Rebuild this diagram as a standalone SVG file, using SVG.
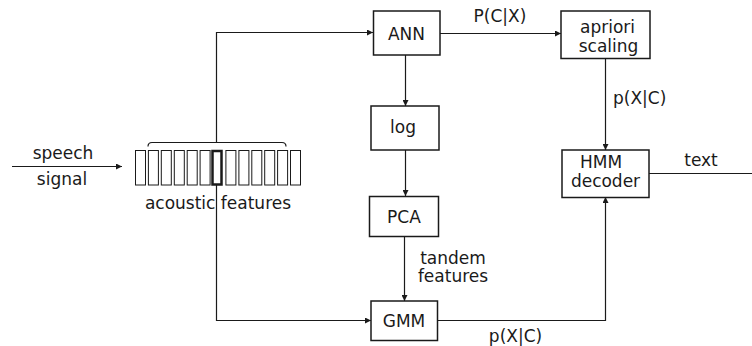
<svg xmlns="http://www.w3.org/2000/svg" width="752" height="346" viewBox="0 0 752 346">
<style>
  text { font-family: "DejaVu Sans", Verdana, sans-serif; font-size: 17px; fill: #1a1a1a; }
  .box { fill: #ffffff; stroke: #1a1a1a; stroke-width: 1.5; }
  .conn { fill: none; stroke: #1a1a1a; stroke-width: 1.2; }
  .feat { fill: #ffffff; stroke: #1a1a1a; stroke-width: 1; }
  .mid { stroke-width: 2.5; }
  .c { text-anchor: middle; }
</style>
<defs>
  <marker id="arr" viewBox="0 0 8 8" refX="8" refY="4" markerWidth="6" markerHeight="6" orient="auto" markerUnits="userSpaceOnUse">
    <path d="M0,0 L8,4 L0,8 z" fill="#1a1a1a"/>
  </marker>
</defs>

<g id="connectors">
  <path class="conn" d="M12,166.5 H122" marker-end="url(#arr)"/>
  <path class="conn" d="M216.5,142 V32.5 H373" marker-end="url(#arr)"/>
  <path class="conn" d="M216.5,185 V320.5 H371" marker-end="url(#arr)"/>
  <path class="conn" d="M405.5,55 V106" marker-end="url(#arr)"/>
  <path class="conn" d="M405.5,150 V196" marker-end="url(#arr)"/>
  <path class="conn" d="M404.5,237 V301" marker-end="url(#arr)"/>
  <path class="conn" d="M440,33.5 H561" marker-end="url(#arr)"/>
  <path class="conn" d="M605.5,58 V150" marker-end="url(#arr)"/>
  <path class="conn" d="M437,320.5 H605.5 V197" marker-end="url(#arr)"/>
  <path class="conn" d="M649,173.5 H752"/>
</g>

<g id="input-label">
  <text class="c" x="63" y="159">speech</text>
  <text class="c" x="62" y="185">signal</text>
</g>

<g id="acoustic-features">
  <path class="conn" d="M148,146.5 Q148,142.5 152,142.5 H282 Q286,142.5 286,146.5"/>
  <rect class="feat" x="135.5" y="150.5" width="10" height="34.5"/>
  <rect class="feat" x="148.4" y="150.5" width="10" height="34.5"/>
  <rect class="feat" x="161.3" y="150.5" width="10" height="34.5"/>
  <rect class="feat" x="174.3" y="150.5" width="10" height="34.5"/>
  <rect class="feat" x="187.2" y="150.5" width="10" height="34.5"/>
  <rect class="feat" x="200.1" y="150.5" width="10" height="34.5"/>
  <rect class="feat mid" x="212.5" y="151" width="9" height="33.5"/>
  <rect class="feat" x="225.9" y="150.5" width="10" height="34.5"/>
  <rect class="feat" x="238.9" y="150.5" width="10" height="34.5"/>
  <rect class="feat" x="251.8" y="150.5" width="10" height="34.5"/>
  <rect class="feat" x="264.7" y="150.5" width="10" height="34.5"/>
  <rect class="feat" x="277.6" y="150.5" width="10" height="34.5"/>
  <rect class="feat" x="290.5" y="150.5" width="10" height="34.5"/>
  <text class="c" x="218" y="208.5">acoustic features</text>
</g>

<g id="ANN">
  <rect class="box" x="373.5" y="11" width="66.5" height="44"/>
  <text class="c" x="406.5" y="39.5">ANN</text>
</g>

<g id="log">
  <rect class="box" x="371" y="106" width="68" height="44"/>
  <text class="c" x="403" y="132.5">log</text>
</g>

<g id="PCA">
  <rect class="box" x="369.5" y="196.5" width="69" height="40"/>
  <text class="c" x="404" y="222.5">PCA</text>
</g>

<g id="GMM">
  <rect class="box" x="371" y="301" width="66.5" height="39.5"/>
  <text class="c" x="404" y="326.5">GMM</text>
</g>

<g id="apriori-scaling">
  <rect class="box" x="561" y="11" width="89" height="47.5"/>
  <text class="c" x="607.5" y="33">apriori</text>
  <text class="c" x="608.5" y="52">scaling</text>
</g>

<g id="HMM-decoder">
  <rect class="box" x="562" y="150" width="87" height="47.5"/>
  <text class="c" x="601" y="168">HMM</text>
  <text class="c" x="605.5" y="187">decoder</text>
</g>

<g id="labels">
  <text class="c" x="500" y="22">P(C|X)</text>
  <text x="613" y="103.5">p(X|C)</text>
  <text class="c" x="701" y="166">text</text>
  <text class="c" x="453" y="263.5">tandem</text>
  <text class="c" x="453" y="282">features</text>
  <text class="c" x="515.5" y="342">p(X|C)</text>
</g>
</svg>
